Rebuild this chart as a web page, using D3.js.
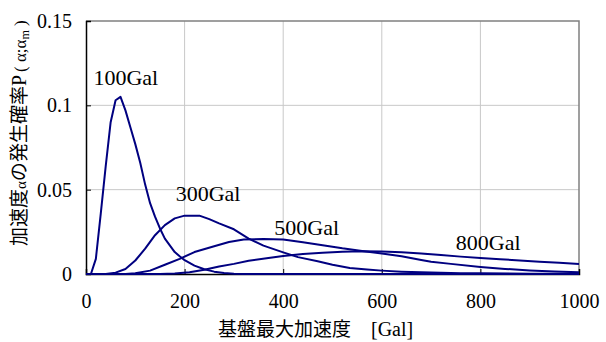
<!DOCTYPE html>
<html>
<head>
<meta charset="utf-8">
<script src="https://cdn.jsdelivr.net/npm/d3@7"></script>
<style>
  html, body { margin: 0; padding: 0; background: #fff; }
  svg { display: block; }
  .serif { font-family: "Liberation Serif", "Times New Roman", Times, serif; }
  .cjk { font-family: "Noto Sans CJK JP", "Noto Sans", sans-serif; }
</style>
</head>
<body>
<svg id="chart" width="606" height="342"></svg>
<script>
// Peak ground acceleration (Gal) sample points
const pga100 = [0, 10, 20, 30, 40, 50, 60, 70, 80, 90, 100, 110, 120, 130, 140, 150, 160, 170, 180, 190, 200, 220, 240, 260, 280, 300, 320, 1000];
const prob100 = [0, 0, 0.009, 0.036, 0.064, 0.090, 0.103, 0.105, 0.097, 0.087, 0.077, 0.066, 0.053, 0.042, 0.034, 0.027, 0.021, 0.017, 0.013, 0.0105, 0.0082, 0.0050, 0.0028, 0.0014, 0.0006, 0.0002, 0, 0];

const pga300 = [0, 40, 60, 80, 100, 120, 140, 160, 180, 200, 230, 250, 270, 300, 330, 360, 400, 430, 470, 500, 535, 570, 600, 640, 680, 720, 760, 800, 900, 1000];
const prob300 = [0, 0, 0.0008, 0.003, 0.008, 0.015, 0.023, 0.029, 0.033, 0.0346, 0.0346, 0.0325, 0.030, 0.0265, 0.021, 0.0168, 0.0128, 0.0100, 0.0075, 0.0055, 0.0035, 0.0026, 0.0020, 0.0014, 0.0010, 0.0007, 0.0005, 0.0004, 0.0002, 0.0001];

const pga500 = [0, 80, 100, 130, 160, 190, 220, 260, 290, 320, 360, 400, 440, 480, 520, 560, 600, 640, 680, 700, 740, 800, 850, 900, 950, 1000];
const prob500 = [0, 0, 0.0004, 0.002, 0.0055, 0.009, 0.013, 0.0165, 0.019, 0.0205, 0.0207, 0.0205, 0.0188, 0.0170, 0.0152, 0.0137, 0.0122, 0.0105, 0.0083, 0.0073, 0.0060, 0.0042, 0.0030, 0.0021, 0.0015, 0.0011];

const pga800 = [0, 150, 180, 210, 240, 270, 300, 330, 370, 400, 440, 480, 520, 560, 600, 640, 680, 720, 760, 800, 840, 880, 920, 960, 1000];
const prob800 = [0, 0, 0.0003, 0.001, 0.0025, 0.0045, 0.006, 0.0078, 0.0095, 0.0107, 0.0118, 0.0126, 0.0132, 0.0135, 0.0134, 0.0129, 0.0121, 0.0112, 0.0103, 0.0095, 0.0088, 0.0080, 0.0073, 0.0066, 0.0060];

const seriesNames = ["100Gal", "300Gal", "500Gal", "800Gal"];
const xTicks = [0, 200, 400, 600, 800, 1000];
const yTicks = [0, 0.05, 0.1, 0.15];
const yTickLabels = ["0", "0.05", "0.1", "0.15"];

// Label anchor points in data units
const labelX = [15, 182, 382, 750];
const labelY = [0.112, 0.043, 0.023, 0.0145];

const width = 606, height = 342;
const margin = { top: 21, right: 27, bottom: 68, left: 86 };
const svg = d3.select("#chart");

const x = d3.scaleLinear().domain([0, 1000]).range([margin.left, width - margin.right]);
const y = d3.scaleLinear().domain([0, 0.15]).range([height - margin.bottom, margin.top]);

// Grid lines
svg.append("g")
  .selectAll("line")
  .data(xTicks.slice(1, -1))
  .join("line")
  .attr("x1", d => x(d)).attr("x2", d => x(d))
  .attr("y1", y(0.15)).attr("y2", y(0))
  .attr("stroke", "#c8c8c8").attr("stroke-width", 1);

svg.append("g")
  .selectAll("line")
  .data(yTicks.slice(1, -1))
  .join("line")
  .attr("x1", x(0)).attr("x2", x(1000))
  .attr("y1", d => y(d)).attr("y2", d => y(d))
  .attr("stroke", "#c8c8c8").attr("stroke-width", 1);

// Top and right frame
svg.append("path")
  .attr("d", `M${x(0)},${y(0.15)}H${x(1000)}V${y(0)}`)
  .attr("fill", "none").attr("stroke", "#808080").attr("stroke-width", 1.5);

// Axes with inward ticks
const xAxis = d3.axisBottom(x).tickValues(xTicks).tickSize(-5).tickPadding(20).tickFormat(d3.format("d"));
const gx = svg.append("g").attr("transform", `translate(0,${y(0)})`).call(xAxis);
gx.attr("font-family", null).attr("font-size", null);
gx.select(".domain").attr("stroke", "#000").attr("stroke-width", 1.5);
gx.selectAll(".tick line").attr("stroke", "#000");
gx.selectAll(".tick text").attr("class", "serif").style("font-size", "20px").attr("fill", "#000");

const yAxis = d3.axisLeft(y).tickValues(yTicks).tickSize(-5).tickPadding(14)
  .tickFormat((d, i) => yTickLabels[i]);
const gy = svg.append("g").attr("transform", `translate(${x(0)},0)`).call(yAxis);
gy.attr("font-family", null).attr("font-size", null);
gy.select(".domain").attr("stroke", "#000").attr("stroke-width", 1.5);
gy.selectAll(".tick line").attr("stroke", "#000");
gy.selectAll(".tick text").attr("class", "serif").style("font-size", "20px").attr("fill", "#000");

// Probability curves
const line = d3.line().x(d => x(d[0])).y(d => y(d[1]));
const curves = [
  d3.zip(pga100, prob100),
  d3.zip(pga300, prob300),
  d3.zip(pga500, prob500),
  d3.zip(pga800, prob800)
];
svg.append("g")
  .selectAll("path")
  .data(curves)
  .join("path")
  .attr("d", line)
  .attr("fill", "none")
  .attr("stroke", "#000080")
  .attr("stroke-width", 2)
  .attr("stroke-linejoin", "round");

// Curve labels
svg.append("g")
  .selectAll("text")
  .data(seriesNames)
  .join("text")
  .attr("class", "serif")
  .attr("x", (d, i) => x(labelX[i]))
  .attr("y", (d, i) => y(labelY[i]))
  .style("font-size", "22px")
  .attr("fill", "#000")
  .text(d => d);

// X axis title
const xt = svg.append("text")
  .attr("x", 218).attr("y", 336)
  .attr("fill", "#000");
xt.append("tspan").attr("class", "cjk").style("font-size", "19px").text("基盤最大加速度");
xt.append("tspan").attr("class", "serif").style("font-size", "20px").attr("dx", 20).text("[Gal]");

// Y axis title
const yt = svg.append("text")
  .attr("transform", "translate(26,246) rotate(-90)")
  .attr("fill", "#000");
yt.append("tspan").attr("class", "cjk").style("font-size", "19px").text("加速度");
yt.append("tspan").attr("class", "serif").style("font-size", "15px").text("α");
yt.append("tspan").attr("class", "cjk").style("font-size", "19px").text("の発生確率");
yt.append("tspan").attr("class", "serif").style("font-size", "20px").text("P");
yt.append("tspan").attr("class", "serif").style("font-size", "17px").attr("dx", 3).text("( α;α");
yt.append("tspan").attr("class", "serif").style("font-size", "12px").attr("dy", 3).text("m");
yt.append("tspan").attr("class", "serif").style("font-size", "17px").attr("dy", -3).text(" )");
</script>
</body>
</html>
